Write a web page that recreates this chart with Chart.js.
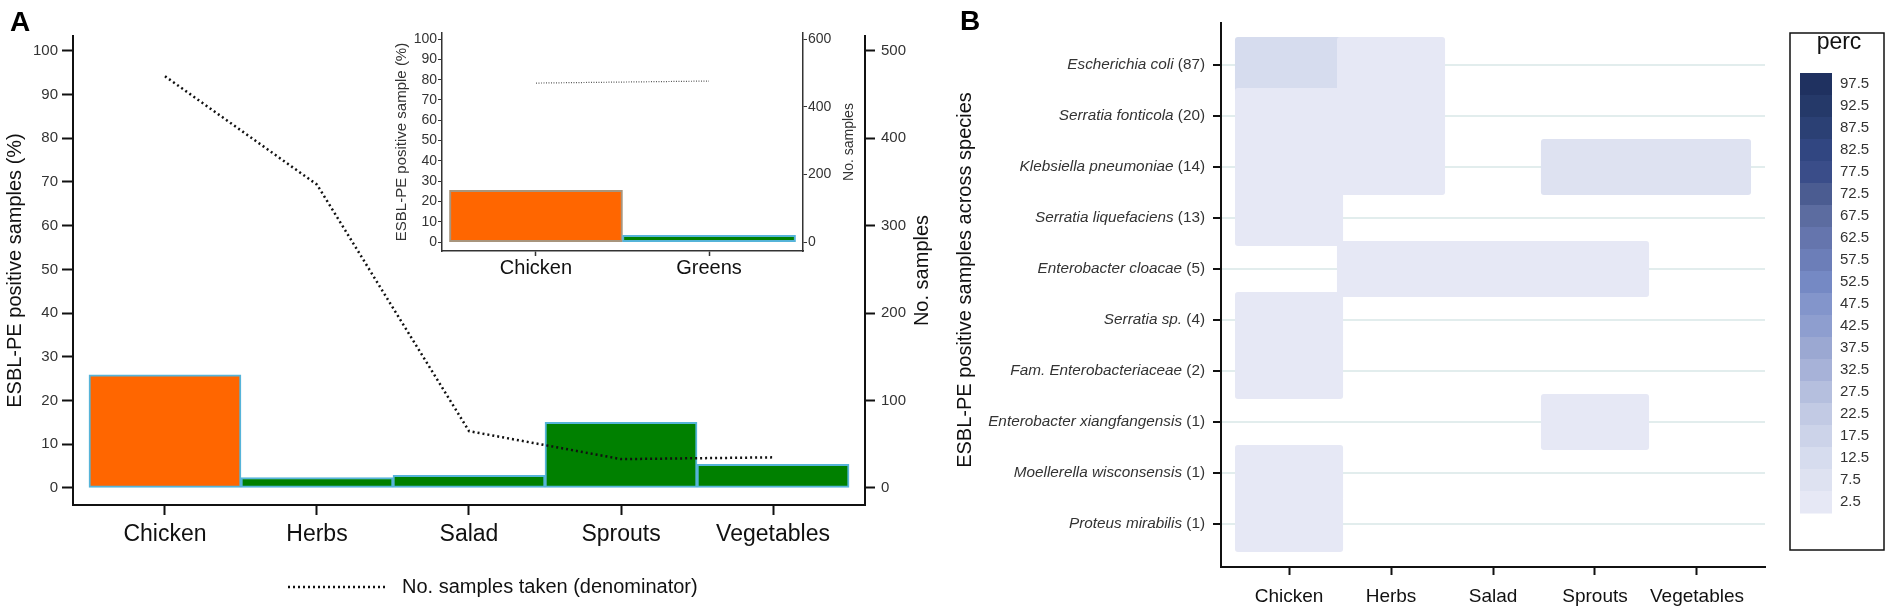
<!DOCTYPE html>
<html>
<head>
<meta charset="utf-8">
<title>ESBL-PE positive samples</title>
<script src="https://cdn.jsdelivr.net/npm/chart.js@4.4.1/dist/chart.umd.min.js"></script>
<style>
  html, body { margin: 0; padding: 0; background: #fff; }
  #wrap { position: relative; width: 1891px; height: 614px; overflow: hidden; }
  canvas { position: absolute; top: 0; }
</style>
</head>
<body>
<div id="wrap">
  <canvas id="panelA" width="940" height="614" style="left:0;width:940px;height:614px"></canvas>
  <canvas id="inset" width="500" height="290" style="left:380px;width:500px;height:290px"></canvas>
  <canvas id="panelB" width="951" height="614" style="left:940px;width:951px;height:614px"></canvas>
</div>
<script>
// panel A data
const foodTypes = ["Chicken", "Herbs", "Salad", "Sprouts", "Vegetables"];
const positivePct = [25.9, 2.4, 2.9, 15.0, 5.4];
const samplesTaken = [471, 347, 65, 33, 35];
const pctTicks = [0, 10, 20, 30, 40, 50, 60, 70, 80, 90, 100];
const sampleTicks = [0, 100, 200, 300, 400, 500];

// inset data
const insetGroups = ["Chicken", "Greens"];
const insetPositivePct = [25.5, 3.3];
const insetSamples = [470, 476];
const insetSampleTicks = [0, 200, 400, 600];

// panel B data (perc of positive samples, null = none)
const species = [
  "Escherichia coli", "Serratia fonticola", "Klebsiella pneumoniae",
  "Serratia liquefaciens", "Enterobacter cloacae", "Serratia sp.",
  "Fam. Enterobacteriaceae", "Enterobacter xiangfangensis",
  "Moellerella wisconsensis", "Proteus mirabilis"
];
const speciesCounts = [87, 20, 14, 13, 5, 4, 2, 1, 1, 1];
const percChicken = [12, 4, 3, 3, null, 1, 0.5, null, 0.2, 0.2];
const percHerbs = [2, 1, 1, null, 1, null, null, null, null, null];
const percSalad = [null, null, null, null, 1.5, null, null, null, null, null];
const percSprouts = [null, null, 6, null, 3, null, null, 3, null, null];
const percVegetables = [null, null, 6, null, null, null, null, null, null, null];
const percBreaks = [2.5, 7.5, 12.5, 17.5, 22.5, 27.5, 32.5, 37.5, 42.5, 47.5,
  52.5, 57.5, 62.5, 67.5, 72.5, 77.5, 82.5, 87.5, 92.5, 97.5];

const percPalette = ["#e6e8f5", "#dee2f1", "#d6dcee", "#ccd3e9", "#c2cae4",
  "#b5bfde", "#a7b2d8", "#9ba8d2", "#8e9ecf", "#8395cb", "#7589c4", "#6c7eb8",
  "#6575ad", "#5c6ca0", "#4b5c91", "#3a4d89", "#314681", "#2b4074", "#253969",
  "#1f3160"];

const fontFam = "'Liberation Sans', Arial, sans-serif";
Chart.defaults.font.family = fontFam;
Chart.defaults.color = "#333";

const orange = "#ff6600";
const green = "#008000";
const edgeBlue = "#56b4d9";

const fixedTicks = (vals) => (s) => { s.ticks = vals.map(v => ({ value: v })); };

const panelLetter = (letter, x, y) => ({
  id: "letter" + letter,
  afterDraw(chart) {
    const ctx = chart.ctx;
    ctx.save();
    ctx.font = "bold 28px " + fontFam;
    ctx.fillStyle = "#000";
    ctx.textAlign = "left";
    ctx.textBaseline = "alphabetic";
    ctx.fillText(letter, x, y);
    ctx.restore();
  }
});

// axis titles read bottom-to-top on both sides, as in the figure
const sideTitle = (id, scaleId, text, size, color, x, yCenter) => ({
  id: id,
  afterDraw(chart) {
    const s = chart.scales[scaleId];
    const ctx = chart.ctx;
    const cy = yCenter !== undefined ? yCenter : (s.top + s.bottom) / 2;
    ctx.save();
    ctx.translate(x, cy);
    ctx.rotate(-Math.PI / 2);
    ctx.font = size + "px " + fontFam;
    ctx.fillStyle = color;
    ctx.textAlign = "center";
    ctx.textBaseline = "middle";
    ctx.fillText(text, 0, 0);
    ctx.restore();
  }
});

const samplesLegend = {
  id: "samplesLegend",
  afterDraw(chart) {
    const ctx = chart.ctx;
    const ds = chart.data.datasets[0];
    ctx.save();
    ctx.strokeStyle = ds.borderColor;
    ctx.lineWidth = ds.borderWidth;
    ctx.setLineDash(ds.borderDash);
    ctx.beginPath();
    ctx.moveTo(288, 587);
    ctx.lineTo(386, 587);
    ctx.stroke();
    ctx.setLineDash([]);
    ctx.font = "20px " + fontFam;
    ctx.fillStyle = "#111";
    ctx.textBaseline = "middle";
    ctx.fillText(ds.label, 402, 587);
    ctx.restore();
  }
};

// ---- panel A ----
new Chart(document.getElementById("panelA"), {
  type: "bar",
  data: {
    datasets: [
      {
        type: "line",
        label: "No. samples taken (denominator)",
        yAxisID: "y2",
        order: 0,
        data: samplesTaken.map((v, i) => ({ x: i, y: v })),
        borderColor: "#111",
        borderWidth: 2.5,
        borderDash: [2, 3],
        pointRadius: 0,
        fill: false,
        tension: 0
      },
      {
        type: "bar",
        label: "ESBL-PE positive samples (%)",
        yAxisID: "y",
        order: 1,
        data: positivePct.map((v, i) => ({ x: i, y: v })),
        backgroundColor: foodTypes.map((f, i) => (i === 0 ? orange : green)),
        borderColor: edgeBlue,
        borderWidth: 2,
        borderSkipped: false,
        barPercentage: 1,
        categoryPercentage: 1
      }
    ]
  },
  options: {
    responsive: false,
    animation: false,
    layout: { padding: { top: 36, left: 0, right: 0, bottom: 0 } },
    plugins: { legend: { display: false }, tooltip: { enabled: false } },
    scales: {
      x: {
        type: "linear", offset: false, bounds: "data",
        min: -0.605, max: 4.605,
        afterBuildTicks: fixedTicks(foodTypes.map((f, i) => i)),
        afterFit: (s) => { s.height = 109; },
        ticks: {
          callback: (v) => foodTypes[v], autoSkip: false, maxRotation: 0,
          font: { size: 23, lineHeight: 1 }, color: "#111", padding: 8
        },
        grid: { offset: false, drawOnChartArea: false, tickLength: 10, tickColor: "#111", tickWidth: 2 },
        border: { color: "#111", width: 2 }
      },
      y: {
        position: "left", bounds: "data",
        min: -3.9, max: 103.4,
        afterBuildTicks: fixedTicks(pctTicks),
        afterFit: (s) => { s.width = 73; },
        ticks: { font: { size: 15, lineHeight: 1 }, color: "#333", padding: 4 },
        grid: { drawOnChartArea: false, tickLength: 11, tickColor: "#111", tickWidth: 2 },
        border: { color: "#111", width: 2 }
      },
      y2: {
        position: "right", bounds: "data",
        min: -19.5, max: 517,
        afterBuildTicks: fixedTicks(sampleTicks),
        afterFit: (s) => { s.width = 75; },
        ticks: { font: { size: 15, lineHeight: 1 }, color: "#333", padding: 6 },
        grid: { drawOnChartArea: false, tickLength: 10, tickColor: "#111", tickWidth: 2 },
        border: { color: "#111", width: 2 }
      }
    }
  },
  plugins: [
    panelLetter("A", 10, 31), samplesLegend,
    sideTitle("titleA1", "y", "ESBL-PE positive samples (%)", 20, "#111", 15),
    sideTitle("titleA2", "y2", "No. samples", 20, "#111", 922)
  ]
});

// ---- inset ----
new Chart(document.getElementById("inset"), {
  type: "bar",
  data: {
    datasets: [
      {
        type: "line",
        yAxisID: "y2",
        order: 0,
        data: insetSamples.map((v, i) => ({ x: i, y: v })),
        borderColor: "#555",
        borderWidth: 1.2,
        borderDash: [1, 1.5],
        pointRadius: 0,
        fill: false
      },
      {
        type: "bar",
        yAxisID: "y",
        order: 1,
        data: insetPositivePct.map((v, i) => ({ x: i, y: v })),
        backgroundColor: [orange, green],
        borderColor: ["#a8957d", edgeBlue],
        borderWidth: 2,
        borderSkipped: false,
        barPercentage: 1,
        categoryPercentage: 1
      }
    ]
  },
  options: {
    responsive: false,
    animation: false,
    layout: { padding: { top: 33, left: 0, right: 0, bottom: 0 } },
    plugins: { legend: { display: false }, tooltip: { enabled: false } },
    scales: {
      x: {
        type: "linear", offset: false, bounds: "data",
        min: -0.543, max: 1.543,
        afterBuildTicks: fixedTicks(insetGroups.map((g, i) => i)),
        afterFit: (s) => { s.height = 39; },
        ticks: {
          callback: (v) => insetGroups[v], autoSkip: false, maxRotation: 0,
          font: { size: 20, lineHeight: 1 }, color: "#111", padding: 2
        },
        grid: { offset: false, drawOnChartArea: false, tickLength: 5, tickColor: "#333", tickWidth: 1.5 },
        border: { color: "#333", width: 1.5 }
      },
      y: {
        position: "left", bounds: "data",
        min: -4.4, max: 103,
        afterBuildTicks: fixedTicks(pctTicks),
        afterFit: (s) => { s.width = 62; },
        ticks: { font: { size: 14, lineHeight: 1 }, color: "#333", padding: 1 },
        grid: { drawOnChartArea: false, tickLength: 4, tickColor: "#333", tickWidth: 1 },
        border: { color: "#333", width: 1.5 }
      },
      y2: {
        position: "right", bounds: "data",
        min: -26.4, max: 618,
        afterBuildTicks: fixedTicks(insetSampleTicks),
        afterFit: (s) => { s.width = 77; },
        ticks: { font: { size: 14, lineHeight: 1 }, color: "#333", padding: 1 },
        grid: { drawOnChartArea: false, tickLength: 4, tickColor: "#333", tickWidth: 1 },
        border: { color: "#333", width: 1.5 }
      }
    }
  },
  plugins: [
    sideTitle("titleI1", "y", "ESBL-PE positive sample (%)", 15, "#333", 22),
    sideTitle("titleI2", "y2", "No. samples", 14, "#333", 469)
  ]
});

// ---- panel B ----
const percColumns = [percChicken, percHerbs, percSalad, percSprouts, percVegetables];
const tiles = [];
percColumns.forEach((col, c) => {
  col.forEach((v, r) => {
    if (v !== null) tiles.push({ x: [c - 0.53, c + 0.53], y: r, v: v });
  });
});
const percColor = (v) => percPalette[Math.min(percPalette.length - 1, Math.floor(v / 5))];

const speciesLabels = {
  id: "speciesLabels",
  afterDraw(chart) {
    const { ctx } = chart;
    const y = chart.scales.y;
    ctx.save();
    ctx.fillStyle = "#333";
    ctx.textBaseline = "middle";
    ctx.textAlign = "right";
    species.forEach((name, i) => {
      const py = y.getPixelForValue(i);
      const xEnd = y.right - 16;
      const count = " (" + speciesCounts[i] + ")";
      ctx.font = "15.3px " + fontFam;
      ctx.fillText(count, xEnd, py);
      const w = ctx.measureText(count).width;
      ctx.font = "italic 15.3px " + fontFam;
      ctx.fillText(name, xEnd - w, py);
    });
    ctx.restore();
  }
};

const percLegend = {
  id: "percLegend",
  afterDraw(chart) {
    const ctx = chart.ctx;
    ctx.save();
    ctx.strokeStyle = "#111";
    ctx.lineWidth = 1.5;
    ctx.strokeRect(850, 33, 94, 517);
    ctx.fillStyle = "#111";
    ctx.font = "23px " + fontFam;
    ctx.textAlign = "center";
    ctx.textBaseline = "alphabetic";
    ctx.fillText("perc", 899, 49);
    const n = percBreaks.length;
    for (let i = 0; i < n; i++) {
      const idx = n - 1 - i;
      const top = 73 + i * 22;
      ctx.fillStyle = percPalette[idx];
      ctx.fillRect(860, top, 32, 22.5);
      ctx.fillStyle = "#333";
      ctx.font = "15px " + fontFam;
      ctx.textAlign = "left";
      ctx.textBaseline = "middle";
      ctx.fillText(String(percBreaks[idx]), 900, top + 11);
    }
    ctx.restore();
  }
};

new Chart(document.getElementById("panelB"), {
  type: "bar",
  data: {
    datasets: [{
      data: tiles,
      backgroundColor: (ctx) => (ctx.raw ? percColor(ctx.raw.v) : "#fff"),
      borderWidth: 0,
      borderRadius: 3,
      borderSkipped: false,
      barPercentage: 1.1,
      categoryPercentage: 1
    }]
  },
  options: {
    indexAxis: "y",
    responsive: false,
    animation: false,
    layout: { padding: { top: 23, left: 0, right: 126, bottom: 0 } },
    plugins: { legend: { display: false }, tooltip: { enabled: false } },
    scales: {
      x: {
        type: "linear", bounds: "data",
        min: -0.667, max: 4.667,
        afterBuildTicks: fixedTicks(foodTypes.map((f, i) => i)),
        afterFit: (s) => { s.height = 47; },
        ticks: {
          callback: (v) => foodTypes[v], autoSkip: false, maxRotation: 0,
          font: { size: 19, lineHeight: 1 }, color: "#111", padding: 12
        },
        grid: { drawOnChartArea: false, tickLength: 8, tickColor: "#111", tickWidth: 2 },
        border: { color: "#111", width: 2 }
      },
      y: {
        type: "linear", reverse: true, offset: false, bounds: "data",
        min: -0.824, max: 9.843,
        afterBuildTicks: fixedTicks(species.map((s, i) => i)),
        afterFit: (s) => { s.width = 281; },
        ticks: { display: false },
        grid: { offset: false, color: "#e2eded", lineWidth: 2, tickLength: 8, tickColor: "#111", tickWidth: 2 },
        border: { color: "#111", width: 2 }
      }
    }
  },
  plugins: [
    panelLetter("B", 20, 30), speciesLabels, percLegend,
    sideTitle("titleB", "y", "ESBL-PE positive samples across species", 20, "#111", 25, 280)
  ]
});
</script>
</body>
</html>
